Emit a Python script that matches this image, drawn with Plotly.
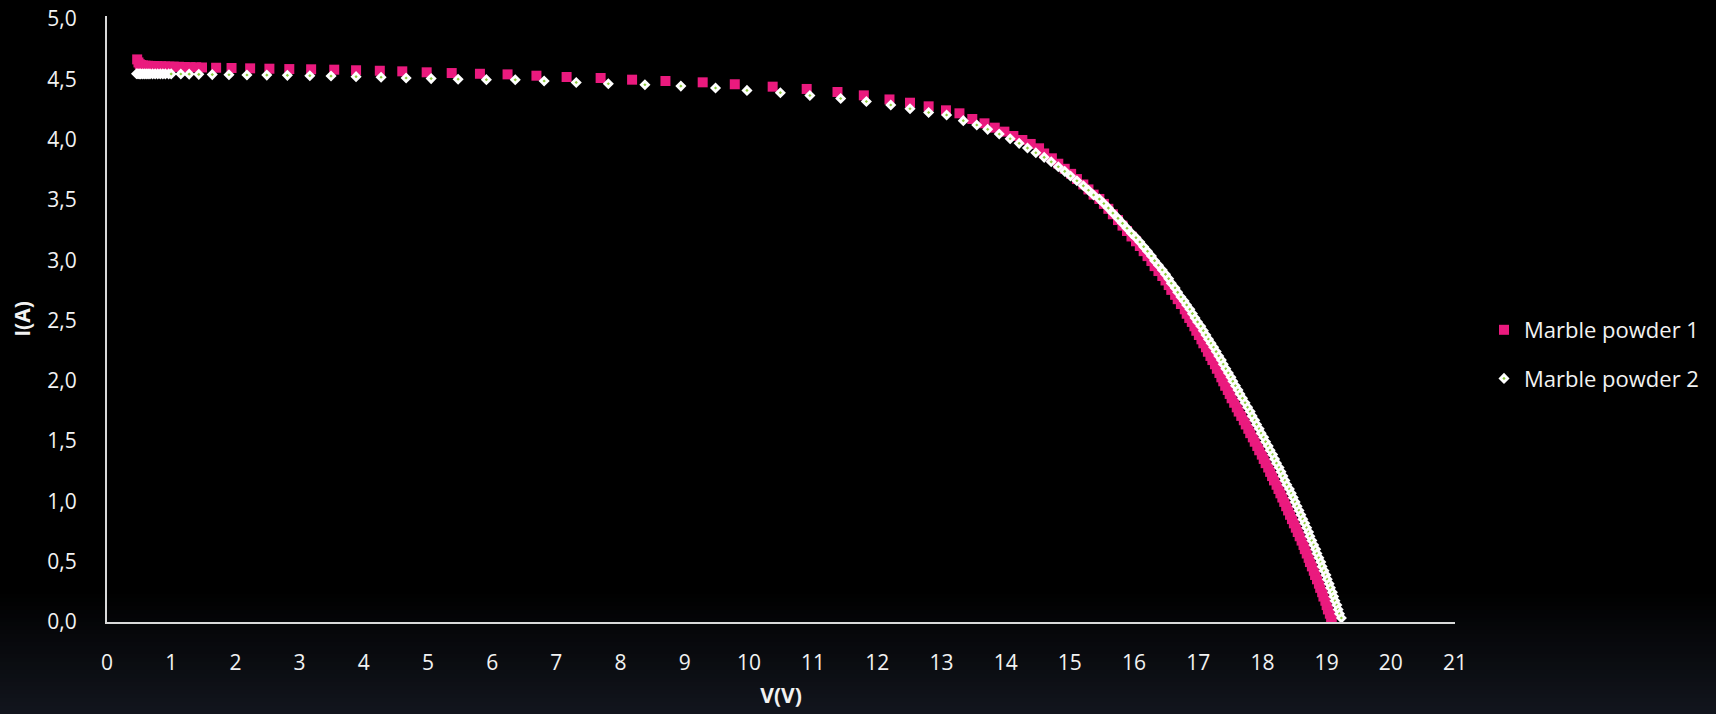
import plotly.graph_objects as go

# ---------------- data ----------------
series_names = ["Marble powder 1", "Marble powder 2"]

v_mp1 = [0.47, 0.49, 0.51, 0.53, 0.56, 0.60, 0.64, 0.68, 0.73, 0.78, 0.84, 0.90, 0.97, 1.04, 1.12, 1.21, 1.30, 1.39, 1.48,
         1.70, 1.94, 2.23, 2.53, 2.84, 3.18, 3.54, 3.88, 4.25, 4.60, 4.98, 5.37, 5.81, 6.24, 6.69, 7.16, 7.69, 8.18, 8.70,
         9.28, 9.78, 10.37, 10.90, 11.38, 11.79, 12.19, 12.51, 12.80, 13.07, 13.28, 13.48, 13.67, 13.83, 13.98, 14.12,
         14.26, 14.39, 14.52, 14.60, 14.72, 14.82, 14.92, 15.02, 15.11, 15.21, 15.29, 15.37, 15.46, 15.53, 15.60, 15.67,
         15.75, 15.82, 15.89, 15.96, 16.03, 16.09, 16.15, 16.21, 16.27, 16.32, 16.38, 16.44, 16.49, 16.54, 16.58, 16.64,
         16.68, 16.73, 16.79, 16.82, 16.86, 16.90, 16.94, 16.97, 17.01, 17.05, 17.08, 17.12, 17.15, 17.19, 17.22, 17.26,
         17.29, 17.33, 17.36, 17.39, 17.42, 17.46, 17.49, 17.52, 17.56, 17.60, 17.63, 17.67, 17.71, 17.74, 17.78, 17.81,
         17.85, 17.88, 17.92, 17.95, 17.99, 18.02, 18.05, 18.09, 18.12, 18.15, 18.18, 18.22, 18.25, 18.28, 18.31, 18.34,
         18.37, 18.40, 18.43, 18.46, 18.49, 18.52, 18.55, 18.58, 18.61, 18.64, 18.66, 18.69, 18.72, 18.74, 18.77, 18.80,
         18.82, 18.85, 18.88, 18.90, 18.93, 18.95, 18.98, 19.00, 19.02, 19.05, 19.07, 19.08]
i_mp1 = [4.665, 4.640, 4.625, 4.618, 4.615, 4.613, 4.612, 4.611, 4.610, 4.609, 4.608, 4.607, 4.606, 4.605, 4.604, 4.602,
         4.601, 4.600, 4.598,
         4.596, 4.594, 4.591, 4.588, 4.585, 4.583, 4.580, 4.575, 4.571, 4.566, 4.558, 4.552, 4.546, 4.541, 4.530, 4.519,
         4.511, 4.497, 4.486, 4.475, 4.459, 4.439, 4.420, 4.395, 4.367, 4.333, 4.306, 4.276, 4.243, 4.218, 4.171, 4.135,
         4.099, 4.066, 4.030, 3.997, 3.964, 3.928, 3.885, 3.845, 3.800, 3.758, 3.716, 3.673, 3.628, 3.587, 3.544, 3.508,
         3.467, 3.426, 3.381, 3.333, 3.287, 3.242, 3.197, 3.157, 3.118, 3.075, 3.034, 2.993, 2.951, 2.910, 2.869, 2.832,
         2.794, 2.754, 2.713, 2.677, 2.637, 2.593, 2.556, 2.521, 2.488, 2.452, 2.415, 2.380, 2.344, 2.311, 2.278, 2.241,
         2.206, 2.172, 2.137, 2.100, 2.065, 2.029, 1.996, 1.959, 1.924, 1.891, 1.855, 1.818, 1.780, 1.745, 1.709, 1.673,
         1.638, 1.602, 1.566, 1.531, 1.495, 1.459, 1.424, 1.388, 1.352, 1.317, 1.281, 1.245, 1.210, 1.174, 1.138, 1.103,
         1.067, 1.032, 0.996, 0.960, 0.925, 0.889, 0.853, 0.818, 0.782, 0.746, 0.711, 0.675, 0.639, 0.604, 0.568, 0.532,
         0.497, 0.461, 0.425, 0.390, 0.354, 0.318, 0.283, 0.247, 0.211, 0.176, 0.140, 0.104, 0.069, 0.033, 0.010]

v_mp2 = [0.46, 0.48, 0.50, 0.52, 0.55, 0.58, 0.61, 0.64, 0.67, 0.71, 0.75, 0.79, 0.83, 0.87, 0.91, 0.96, 1.00,
         1.15, 1.28, 1.43, 1.64, 1.90, 2.18, 2.49, 2.81, 3.16, 3.49, 3.88, 4.27, 4.66, 5.05, 5.47, 5.91, 6.36, 6.81,
         7.31, 7.81, 8.38, 8.94, 9.48, 9.97, 10.49, 10.95, 11.43, 11.83, 12.21, 12.51, 12.80, 13.08, 13.34, 13.55,
         13.72, 13.90, 14.07, 14.21, 14.34, 14.47, 14.60, 14.71, 14.82, 14.92, 15.01, 15.11, 15.21, 15.29, 15.37,
         15.46, 15.53, 15.60, 15.67, 15.75, 15.82, 15.89, 15.96, 16.03, 16.09, 16.15, 16.21, 16.27, 16.32, 16.38,
         16.44, 16.49, 16.54, 16.58, 16.64, 16.68, 16.73, 16.78, 16.82, 16.87, 16.91, 16.95, 16.99, 17.04, 17.08,
         17.12, 17.16, 17.20, 17.24, 17.28, 17.32, 17.36, 17.39, 17.43, 17.47, 17.51, 17.54, 17.58, 17.62, 17.65,
         17.69, 17.73, 17.77, 17.81, 17.84, 17.88, 17.91, 17.95, 17.98, 18.02, 18.05, 18.09, 18.12, 18.16, 18.19,
         18.22, 18.26, 18.29, 18.32, 18.35, 18.38, 18.42, 18.45, 18.48, 18.51, 18.54, 18.57, 18.60, 18.63, 18.66,
         18.69, 18.72, 18.74, 18.77, 18.80, 18.83, 18.85, 18.88, 18.91, 18.93, 18.96, 18.99, 19.01, 19.04, 19.06,
         19.09, 19.11, 19.13, 19.16, 19.18, 19.20, 19.23]
i_mp2 = [4.546, 4.546, 4.545, 4.545, 4.545, 4.545, 4.545, 4.545, 4.545, 4.545, 4.545, 4.545, 4.545, 4.545, 4.545,
         4.545, 4.545,
         4.544, 4.543, 4.541, 4.539, 4.538, 4.536, 4.535, 4.533, 4.530, 4.527, 4.522, 4.517, 4.511, 4.506, 4.501,
         4.497, 4.496, 4.486, 4.474, 4.463, 4.455, 4.444, 4.428, 4.408, 4.389, 4.366, 4.341, 4.316, 4.287, 4.256,
         4.225, 4.204, 4.157, 4.121, 4.085, 4.046, 4.007, 3.969, 3.930, 3.891, 3.853, 3.816, 3.775, 3.737, 3.698,
         3.659, 3.617, 3.580, 3.541, 3.507, 3.470, 3.432, 3.391, 3.347, 3.306, 3.265, 3.223, 3.187, 3.151, 3.112,
         3.074, 3.035, 2.996, 2.958, 2.919, 2.883, 2.847, 2.809, 2.770, 2.734, 2.695, 2.662, 2.629, 2.593, 2.557,
         2.521, 2.488, 2.452, 2.416, 2.380, 2.345, 2.311, 2.278, 2.242, 2.206, 2.172, 2.137, 2.100, 2.065, 2.029,
         1.996, 1.959, 1.924, 1.891, 1.855, 1.818, 1.780, 1.745, 1.709, 1.673, 1.638, 1.602, 1.566, 1.531, 1.495,
         1.459, 1.424, 1.388, 1.352, 1.317, 1.281, 1.245, 1.210, 1.174, 1.138, 1.103, 1.067, 1.032, 0.996, 0.960,
         0.925, 0.889, 0.853, 0.818, 0.782, 0.746, 0.711, 0.675, 0.639, 0.604, 0.568, 0.532, 0.497, 0.461, 0.425,
         0.390, 0.354, 0.318, 0.283, 0.247, 0.211, 0.176, 0.140, 0.104, 0.069, 0.033]

x_tick_vals = list(range(0, 22))
x_tick_text = [str(v) for v in x_tick_vals]
y_tick_vals = [0.0, 0.5, 1.0, 1.5, 2.0, 2.5, 3.0, 3.5, 4.0, 4.5, 5.0]
y_tick_text = ["0,0", "0,5", "1,0", "1,5", "2,0", "2,5", "3,0", "3,5", "4,0", "4,5", "5,0"]

x_title = "V(V)"
y_title = "I(A)"

# ---------------- figure ----------------
FONT = "Open Sans, Lato, DejaVu Sans, sans-serif"
fig = go.Figure()

fig.add_trace(go.Scatter(
    x=v_mp1, y=i_mp1, mode="markers", name=series_names[0], legendgroup="g1",
    marker=dict(symbol="square", size=10, color="#EA1A7E", line=dict(width=0)),
))
fig.add_trace(go.Scatter(
    x=v_mp2, y=i_mp2, mode="markers", name=series_names[1], legendgroup="g2",
    marker=dict(symbol="diamond", size=5.5, color="#8CCB3A", line=dict(color="#FFFFFF", width=2.8)),
))

# background gradient below the plot (black -> dark navy)
W, H = 1716, 714
top_px, bot_px = 16, 622
plot_h = bot_px - top_px
shapes = []
g_start, g_end = 590, 714
steps = 31
for k in range(steps):
    y0px = g_start + (g_end - g_start) * k / steps
    y1px = g_start + (g_end - g_start) * (k + 1) / steps
    f = (k + 0.5) / steps
    col = "rgb(%d,%d,%d)" % (round(18 * f), round(21 * f), round(29 * f))
    shapes.append(dict(type="rect", xref="paper", yref="paper", layer="below",
                       x0=-0.2, x1=1.3,
                       y0=(bot_px - y1px) / plot_h, y1=(bot_px - y0px) / plot_h,
                       fillcolor=col, line=dict(width=0)))

fig.update_layout(
    width=W, height=H,
    paper_bgcolor="#000000", plot_bgcolor="#000000",
    margin=dict(l=107, r=261, t=top_px, b=H - bot_px, pad=0, autoexpand=False),
    font=dict(family=FONT, size=21, color="#F2F2F2"),
    shapes=shapes,
    showlegend=True,
    legend=dict(x=(1484 - 107) / 1348, xanchor="left", y=(622 - 354.5) / plot_h, yanchor="middle",
                bgcolor="rgba(0,0,0,0)", font=dict(size=22, color="#F2F2F2", family=FONT),
                tracegroupgap=17, itemsizing="trace"),
)
fig.update_xaxes(
    range=[0, 21], tickmode="array", tickvals=x_tick_vals, ticktext=x_tick_text,
    showgrid=False, zeroline=False, showline=True, linecolor="#D9D9D9", linewidth=2,
    ticks="", ticklabelstandoff=21, tickfont=dict(size=21, color="#F2F2F2"),
    title=dict(text="<b>" + x_title + "</b>", font=dict(size=21, color="#F2F2F2"), standoff=13),
)
fig.update_yaxes(
    range=[0, 5.025], tickmode="array", tickvals=y_tick_vals, ticktext=y_tick_text,
    showgrid=False, zeroline=False, showline=True, linecolor="#D9D9D9", linewidth=2,
    ticks="", ticklabelstandoff=24, tickfont=dict(size=21, color="#F2F2F2"),
    title=dict(text="<b>" + y_title + "</b>", font=dict(size=21, color="#F2F2F2"), standoff=11),
)

fig.write_html(
    "out.html",
    config={"displayModeBar": False},
    post_script="document.body.style.margin='0';document.body.style.padding='0';"
                "document.body.style.overflow='hidden';document.body.style.background='#000';",
)
